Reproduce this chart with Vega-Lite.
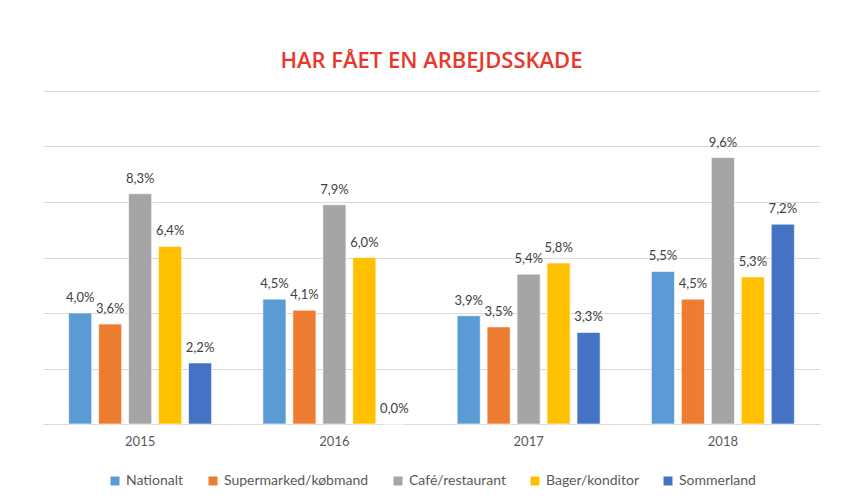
{
  "$schema": "https://vega.github.io/schema/vega-lite/v6.json",
  "width": 777,
  "height": 333,
  "autosize": {"type": "none"},
  "padding": {"left": 43, "top": 91, "right": 23, "bottom": 80},
  "background": "white",
  "config": {
    "view": {"stroke": null},
    "locale": {"number": {"decimal": ",", "thousands": ".", "grouping": [3], "currency": ["", " kr"]}},
    "font": "Lato",
    "legend": {"layout": {"bottom": {"anchor": "middle"}}}
  },
  "title": {
    "text": "HAR FÅET EN ARBEJDSSKADE",
    "font": "Open Sans",
    "fontSize": 22,
    "fontWeight": 600,
    "color": "#e8382e",
    "anchor": "middle",
    "offset": 18
  },
  "data": {
    "values": [
      {"year": "2015", "group": "Nationalt", "value": 0.040},
      {"year": "2015", "group": "Supermarked/købmand", "value": 0.036},
      {"year": "2015", "group": "Café/restaurant", "value": 0.083},
      {"year": "2015", "group": "Bager/konditor", "value": 0.064},
      {"year": "2015", "group": "Sommerland", "value": 0.022},
      {"year": "2016", "group": "Nationalt", "value": 0.045},
      {"year": "2016", "group": "Supermarked/købmand", "value": 0.041},
      {"year": "2016", "group": "Café/restaurant", "value": 0.079},
      {"year": "2016", "group": "Bager/konditor", "value": 0.060},
      {"year": "2016", "group": "Sommerland", "value": 0.0},
      {"year": "2017", "group": "Nationalt", "value": 0.039},
      {"year": "2017", "group": "Supermarked/købmand", "value": 0.035},
      {"year": "2017", "group": "Café/restaurant", "value": 0.054},
      {"year": "2017", "group": "Bager/konditor", "value": 0.058},
      {"year": "2017", "group": "Sommerland", "value": 0.033},
      {"year": "2018", "group": "Nationalt", "value": 0.055},
      {"year": "2018", "group": "Supermarked/købmand", "value": 0.045},
      {"year": "2018", "group": "Café/restaurant", "value": 0.096},
      {"year": "2018", "group": "Bager/konditor", "value": 0.053},
      {"year": "2018", "group": "Sommerland", "value": 0.072}
    ]
  },
  "encoding": {
    "x": {
      "field": "year",
      "type": "nominal",
      "title": null,
      "scale": {"paddingInner": 0.264, "paddingOuter": 0.132},
      "axis": {
        "labelAngle": 0,
        "labelFont": "Lato",
        "labelFontSize": 13,
        "labelColor": "#595959",
        "labelPadding": 11,
        "ticks": false,
        "domainColor": "#d9d9d9",
        "domainWidth": 1
      }
    },
    "xOffset": {
      "field": "group",
      "type": "nominal",
      "sort": ["Nationalt", "Supermarked/købmand", "Café/restaurant", "Bager/konditor", "Sommerland"],
      "scale": {"paddingInner": 0.23, "paddingOuter": 0}
    },
    "y": {
      "field": "value",
      "type": "quantitative",
      "title": null,
      "scale": {"domain": [0, 0.12], "nice": false},
      "axis": {
        "values": [0, 0.02, 0.04, 0.06, 0.08, 0.1, 0.12],
        "labels": false,
        "ticks": false,
        "domain": false,
        "gridColor": "#d9d9d9",
        "gridWidth": 1
      }
    }
  },
  "layer": [
    {
      "mark": {"type": "bar", "stroke": "white", "strokeWidth": 0.6},
      "encoding": {
        "color": {
          "field": "group",
          "type": "nominal",
          "title": null,
          "scale": {
            "domain": ["Nationalt", "Supermarked/købmand", "Café/restaurant", "Bager/konditor", "Sommerland"],
            "range": ["#5b9bd5", "#ed7d31", "#a5a5a5", "#ffc000", "#4472c4"]
          },
          "legend": {
            "orient": "bottom",
            "direction": "horizontal",
            "symbolType": "square",
            "symbolSize": 81,
            "symbolStrokeWidth": 0,
            "labelFont": "Lato",
            "labelFontSize": 14,
            "labelColor": "#595959",
            "columnPadding": 22,
            "labelOffset": 4,
            "offset": 26
          }
        }
      }
    },
    {
      "mark": {"type": "text", "baseline": "alphabetic", "dy": -11, "font": "Lato", "fontSize": 13, "color": "#404040"},
      "encoding": {
        "text": {"field": "value", "type": "quantitative", "format": ".1%"}
      }
    }
  ]
}
